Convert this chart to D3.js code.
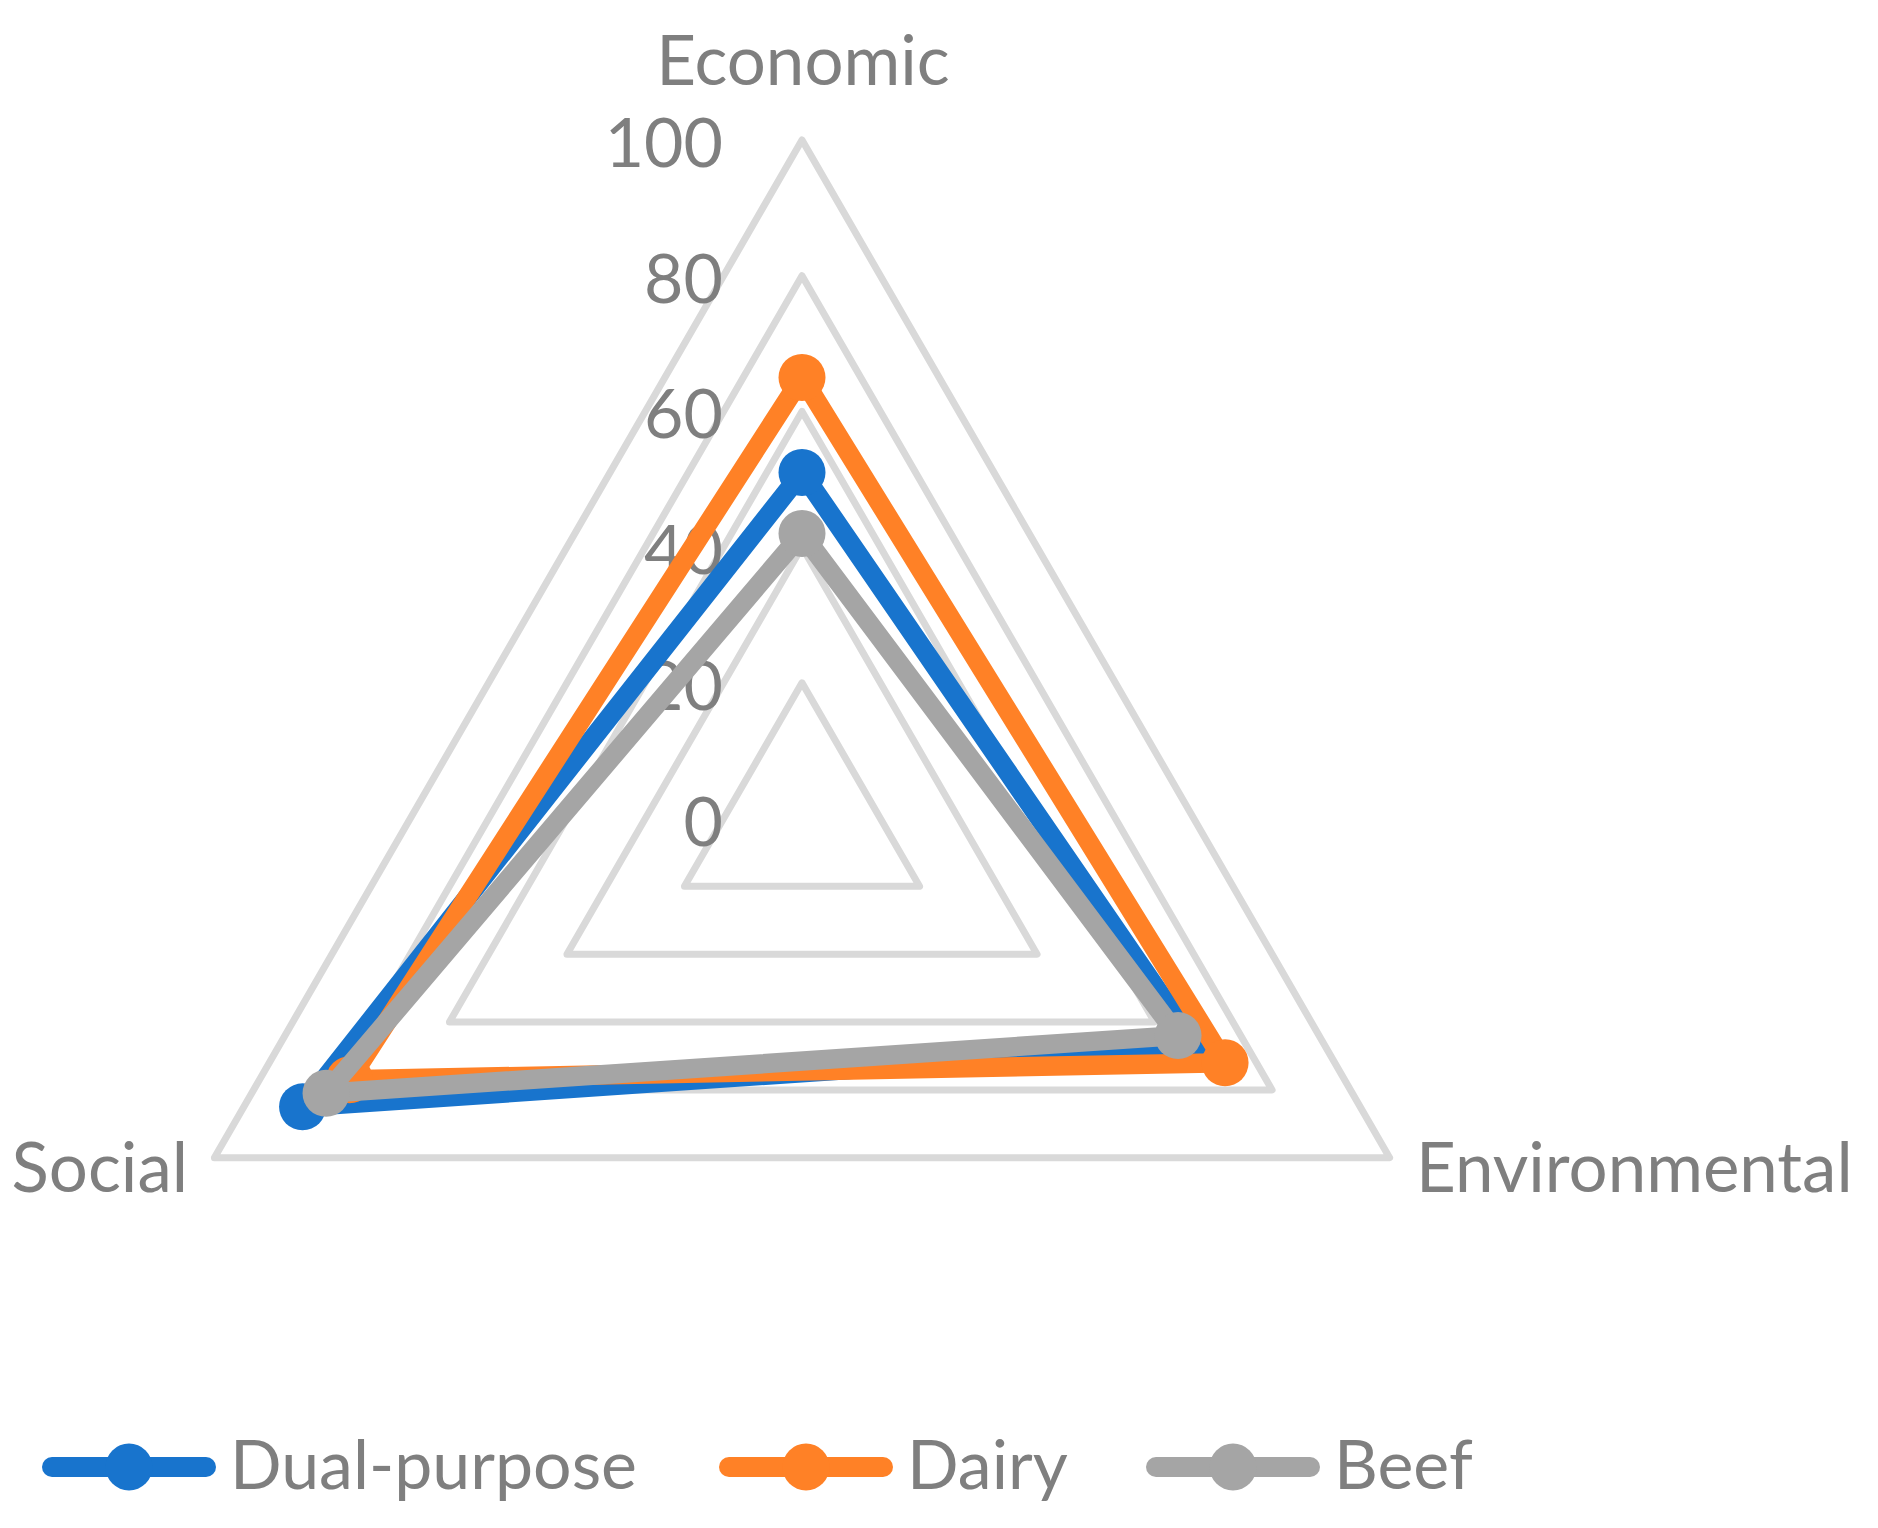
<!DOCTYPE html>
<html>
<head>
<meta charset="utf-8">
<script src="https://cdn.jsdelivr.net/npm/d3@7"></script>
<style>
  body { margin: 0; background: #fff; }
  text { font-family: Lato, "Open Sans", sans-serif; fill: #7f7f7f; }
</style>
</head>
<body>
<div id="viz"></div>
<script>
// data
const axes = ["Economic", "Environmental", "Social"];
const seriesNames = ["Dual-purpose", "Dairy", "Beef"];
const dualValues = [51, 67, 85];
const dairyValues = [65, 72, 77];
const beefValues = [42, 64, 81];
const ticks = [0, 20, 40, 60, 80, 100];

const colors = ["#1874cd", "#ff8126", "#a5a5a5"];
const series = seriesNames.map((name, i) => ({
  name,
  values: [dualValues, dairyValues, beefValues][i],
  color: colors[i]
}));

const W = 1878, H = 1528;
const cx = 802, cy = 818.5;

const svg = d3.select("#viz").append("svg")
  .attr("width", W).attr("height", H);

svg.append("rect").attr("width", W).attr("height", H).attr("fill", "#fff");

const r = d3.scaleLinear().domain([0, 100]).range([0, 678.5]);
// Economic on top, then clockwise
const angle = d3.scalePoint().domain(axes).range([-Math.PI / 2, -Math.PI / 2 + 4 * Math.PI / 3]);

const pt = (a, v) => [cx + r(v) * Math.cos(angle(a)), cy + r(v) * Math.sin(angle(a))];

const g = svg.append("g");

// grid rings
g.selectAll(".ring")
  .data(ticks.filter(t => t > 0))
  .enter().append("path")
  .attr("class", "ring")
  .attr("d", t => d3.line()(axes.map(a => pt(a, t))) + "Z")
  .attr("fill", "none")
  .attr("stroke", "#d9d9d9")
  .attr("stroke-width", 7)
  .attr("stroke-linejoin", "round");

// tick labels
g.selectAll(".tick")
  .data(ticks)
  .enter().append("text")
  .attr("x", 723)
  .attr("y", t => cy - r(t) + 27)
  .attr("text-anchor", "end")
  .attr("font-size", 68)
  .text(t => t);

// series
const line = d3.line().x(d => d[0]).y(d => d[1]);
series.forEach(s => {
  const pts = axes.map((a, i) => pt(a, s.values[i]));
  g.append("path")
    .attr("d", line(pts) + "Z")
    .attr("fill", "none")
    .attr("stroke", s.color)
    .attr("stroke-width", 19.5)
    .attr("stroke-linejoin", "round");
  g.selectAll(null)
    .data(pts)
    .enter().append("circle")
    .attr("cx", d => d[0])
    .attr("cy", d => d[1])
    .attr("r", 23.5)
    .attr("fill", s.color);
});

// axis labels
g.append("text").attr("x", 803).attr("y", 85).attr("text-anchor", "middle")
  .attr("font-size", 69).text(axes[0]);
g.append("text").attr("x", 1416).attr("y", 1192).attr("text-anchor", "start")
  .attr("font-size", 69).text(axes[1]);
g.append("text").attr("x", 188).attr("y", 1192).attr("text-anchor", "end")
  .attr("font-size", 69).text(axes[2]);

// legend
const legendX = [42, 719, 1146];
const legend = svg.append("g");
const items = legend.selectAll(".legend-item")
  .data(series)
  .enter().append("g")
  .attr("class", "legend-item")
  .attr("transform", (d, i) => `translate(${legendX[i]},1467)`);

items.append("line")
  .attr("x1", 10).attr("x2", 164)
  .attr("stroke", d => d.color)
  .attr("stroke-width", 20)
  .attr("stroke-linecap", "round");
items.append("circle")
  .attr("cx", 87).attr("r", 23.5)
  .attr("fill", d => d.color);
items.append("text")
  .attr("x", 188).attr("y", 22)
  .attr("font-size", 68)
  .text(d => d.name);
</script>
</body>
</html>
